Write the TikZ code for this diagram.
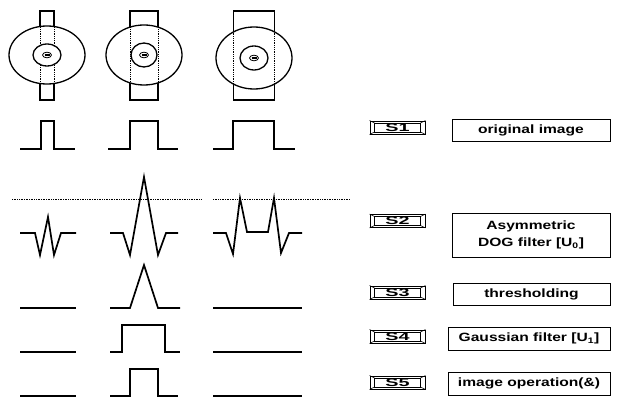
\documentclass[tikz,border=0pt]{standalone}
\usepackage{fontspec}
\newfontfamily\lblfont[FakeStretch=1.3]{Liberation Sans}
\newfontfamily\btnfont[FakeStretch=1.8]{Liberation Sans}
\usetikzlibrary{positioning}

\begin{document}
\begin{tikzpicture}
[x=1pt, y=-1pt, line join=miter,
wave/.style={line width=1.7pt},
outline/.style={line width=1.3pt},
btn/.style={draw, line width=0.9pt, minimum width=55pt, minimum height=13pt, inner sep=0pt, font=\btnfont\bfseries\fontsize{11}{11}\selectfont},
lbl/.style={draw, line width=0.8pt, minimum height=22pt, align=center, inner sep=2pt, font=\lblfont\bfseries\fontsize{12}{17}\selectfont}
]

\useasboundingbox (0,0) rectangle (625,398);

% receptive fields
\foreach \cx/\cy/\ry/\w/\irx/\iry in {47/55/29/7/14/11, 144/55/30/14/13/12, 254/58/31/20.5/14/12}
{
\draw[outline] (\cx-\w,11) rectangle (\cx+\w,100);
\draw[outline, fill=white] (\cx,\cy) ellipse [x radius=38, y radius=\ry];
\begin{scope}
\clip (\cx,\cy) ellipse [x radius=38, y radius=\ry];
\draw[densely dotted, line width=0.8pt] (\cx-\w,11) -- (\cx-\w,100) (\cx+\w,11) -- (\cx+\w,100);
\end{scope}
\draw[outline, fill=white] (\cx,\cy) ellipse [x radius=\irx, y radius=\iry];
\draw[line width=0.8pt, fill=white] (\cx,\cy) ellipse [x radius=4.5, y radius=2.8];
\draw[line width=1.5pt] (\cx-2.5,\cy) -- (\cx+2.5,\cy);
}

% S1 input
\draw[wave] (20,149) -- (41,149) -- (41,121) -- (54,121) -- (54,149) -- (75,149);
\draw[wave] (108,149) -- (130,149) -- (130,121) -- (158,121) -- (158,149) -- (178,149);
\draw[wave] (213,149) -- (233,149) -- (233,121) -- (274,121) -- (274,149) -- (295,149);

% threshold level
\draw[densely dotted, line width=0.7pt] (12,199) -- (202,199) (213,199) -- (350,199);

% S2 DOG response
\draw[wave] (20,233) -- (35,233) -- (40,255) -- (48,217) -- (54,255) -- (61,233) -- (76,233);
\draw[wave] (110,233) -- (123,233) -- (130,255) -- (144,177) -- (158,255) -- (166,233) -- (178,233);
\draw[wave] (213,233) -- (226,233) -- (233,254) -- (240,198) -- (247,232) -- (268,232) -- (274,198) -- (281,253) -- (289,233) -- (302,233);

% S3 - S5
\foreach \y in {308,352,396}
\draw[wave] (20,\y) -- (76,\y) (213,\y) -- (302,\y);
\draw[wave] (110,308) -- (130,308) -- (144,265) -- (158,308) -- (180,308);
\draw[wave] (110,352) -- (122,352) -- (122,325) -- (165,325) -- (165,352) -- (180,352);
\draw[wave] (110,396) -- (130,396) -- (130,369) -- (158,369) -- (158,396) -- (178,396);

% step buttons
\foreach \s/\y in {1/127.5, 2/221, 3/292.5, 4/336.5, 5/382.5}
{
\node[btn] (S\s) at (397.5,\y) {S\s};
\draw[line width=0.8pt] ([xshift=5pt,yshift=-2.5pt]S\s.north west) rectangle ([xshift=-5pt,yshift=2.5pt]S\s.south east);
\draw[line width=0.5pt] (S\s.north west) -- ++(5pt,-2.5pt) (S\s.north east) -- ++(-5pt,-2.5pt)
(S\s.south west) -- ++(5pt,2.5pt) (S\s.south east) -- ++(-5pt,2.5pt);
}

% step labels
\node[lbl, minimum width=158pt] (L1) at (531,130) {original image};
\node[lbl, minimum width=158pt, minimum height=44pt] (L2) at (531,235) {Asymmetric\\DOG filter [U\textsubscript{0}]};
\node[lbl, minimum width=157pt] (L3) at (531.5,294) {thresholding};
\node[lbl, minimum width=162pt, minimum height=23pt] (L4) at (529,338.5) {Gaussian filter [U\textsubscript{1}]};
\node[lbl, minimum width=162pt, minimum height=23pt] (L5) at (529,383.5) {image operation(\&)};

\end{tikzpicture}
\end{document}
